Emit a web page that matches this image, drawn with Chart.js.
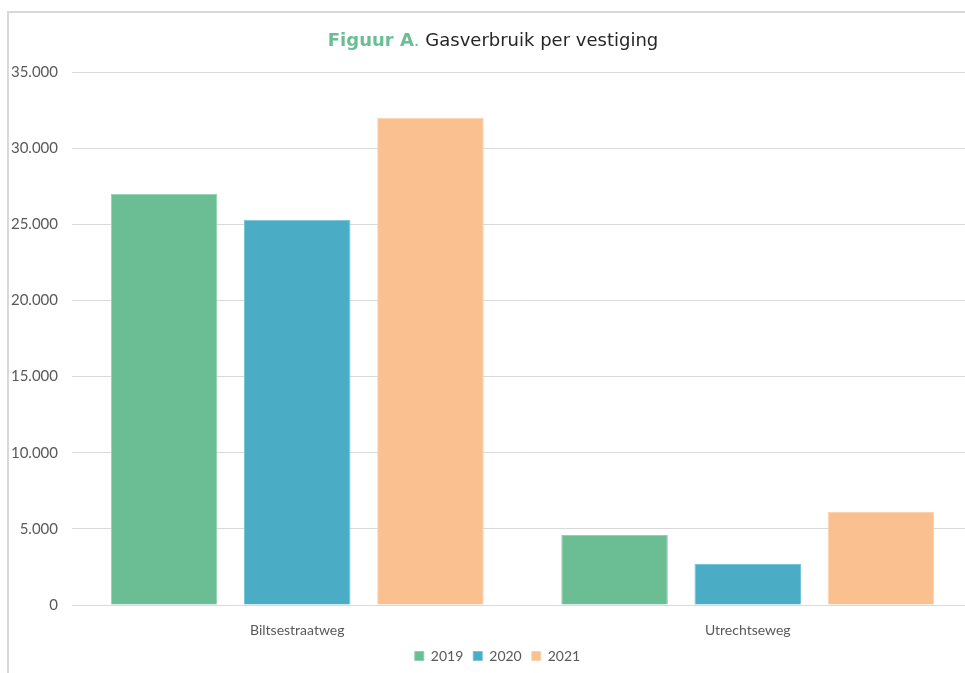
<!DOCTYPE html>
<html>
<head>
<meta charset="utf-8">
<script src="https://cdn.jsdelivr.net/npm/chart.js@4.4.1/dist/chart.umd.min.js"></script>
<style>
  html, body { margin: 0; padding: 0; background: #fff; overflow: hidden; }
  body { width: 965px; height: 673px; position: relative; }
  #frame {
    position: absolute; left: 7px; top: 11px; width: 975px; height: 680px;
    border-left: 2px solid #d9d9d9; border-top: 2px solid #d9d9d9;
  }
  #title {
    position: absolute; left: 8px; top: 29px; width: 970px; text-align: center;
    font-family: "DejaVu Sans", Verdana, sans-serif; font-size: 18px; color: #262626;
  }
  #title b { color: #6bbe93; }
  #wrap { position: absolute; left: 8px; top: 12px; width: 970px; height: 661px; }
</style>
</head>
<body>
<div id="frame"></div>
<div id="wrap"><canvas id="chart"></canvas></div>
<div id="title"><b>Figuur A</b><span style="color:#6bbe93">.</span> Gasverbruik per vestiging</div>
<script>
// Locations and yearly gas usage (m3)
const locations = ["Biltsestraatweg", "Utrechtseweg"];
const years = ["2019", "2020", "2021"];
const gas2019 = [27000, 4600];
const gas2020 = [25300, 2700];
const gas2021 = [32000, 6100];
const yearColors = ["#6bbe93", "#4bacc6", "#fac090"];
const yearBorders = ["#8fd0ae", "#78c3d7", "#fcd2ae"];

// dutch thousands separator: 35.000
const formatNL = (v) => String(v).replace(/\B(?=(\d{3})+(?!\d))/g, ".");

const series = [gas2019, gas2020, gas2021];

// nudge the legend a bit to the right, the original is centred on the plot area
const legendShift = {
  id: "legendShift",
  afterLayout(chart) {
    if (!chart.legend) return;
    chart.legend.left += 7;
    chart.legend.right += 7;
  },
};

const ctx = document.getElementById("chart").getContext("2d");
new Chart(ctx, {
  type: "bar",
  data: {
    labels: locations,
    datasets: series.map((values, i) => ({
      label: years[i],
      data: values,
      backgroundColor: yearColors[i],
      borderColor: yearBorders[i],
      borderWidth: 1,
      categoryPercentage: 0.887,
      barPercentage: 0.8,
    })),
  },
  plugins: [legendShift],
  options: {
    responsive: true,
    maintainAspectRatio: false,
    animation: false,
    layout: { padding: { top: 60, right: 5, bottom: 0, left: 0 } },
    plugins: {
      title: { display: false },
      tooltip: { enabled: false },
      legend: {
        position: "bottom",
        labels: {
          boxWidth: 9,
          boxHeight: 9,
          padding: 10,
          color: "#595959",
          font: { family: "Lato, 'Open Sans', sans-serif", size: 14 },
        },
      },
    },
    scales: {
      x: {
        grid: { display: false },
        border: { display: false },
        ticks: {
          color: "#595959",
          padding: 9,
          font: { family: "Lato, 'Open Sans', sans-serif", size: 14 },
        },
        afterFit: (scale) => { scale.height = 34; },
      },
      y: {
        min: 0,
        max: 35000,
        ticks: {
          stepSize: 5000,
          padding: 14,
          color: "#595959",
          font: { family: "Lato, 'Open Sans', sans-serif", size: 15 },
          callback: (v) => formatNL(v),
        },
        grid: { color: "#d9d9d9", drawTicks: false },
        border: { display: false },
        afterFit: (scale) => { scale.width = 64; },
      },
    },
  },
});
</script>
</body>
</html>
